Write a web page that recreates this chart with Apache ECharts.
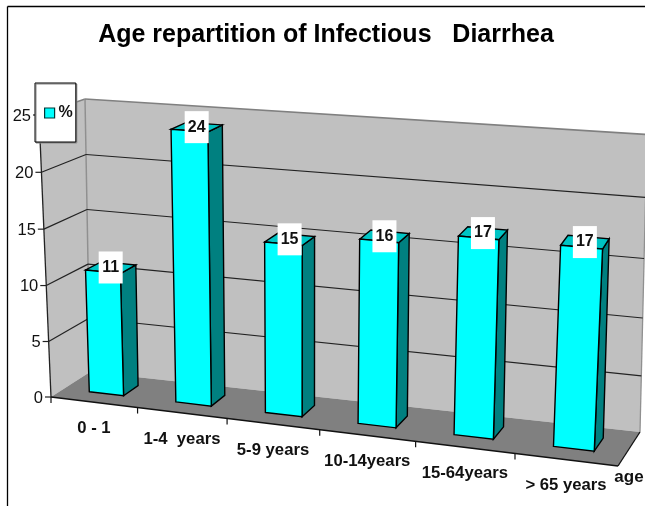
<!DOCTYPE html>
<html><head><meta charset="utf-8">
<style>html,body{margin:0;padding:0;background:#fff}#c{width:645px;height:506px}</style>
<script src="https://cdn.jsdelivr.net/npm/echarts@6/dist/echarts.min.js"></script>
</head><body><div id="c"></div>
<script>
const categories = ['0 - 1', '1-4  years', '5-9 years', '10-14years', '15-64years', '> 65 years'];
const percentValues = [11, 24, 15, 16, 17, 17];
const yTicks = [0, 5, 10, 15, 20, 25];
const chartTitle = 'Age repartition of Infectious   Diarrhea';
const seriesName = '%';
const xAxisName = 'age';

const FONT = '"Liberation Sans", Arial, sans-serif';
// Perspective box: front/back, bottom/top, left/right corners of the 3D plot
const C = {
  f00: [51, 397], f10: [618, 466], f01: [39, 115], f11: [635, 157],
  b00: [90, 372], b10: [640, 432], b01: [85, 99], b11: [647, 134.5]
};
const warpU = u => u / (u + 1.11 * (1 - u));
const lerp = (a, b, t) => [a[0] + (b[0] - a[0]) * t, a[1] + (b[1] - a[1]) * t];
function box(u, v, w) {
  const U = warpU(u);
  const V = v - (0.02 + 0.05 * U) * v * (1 - v);
  const f0 = lerp(C.f00, C.f10, U), f1 = lerp(C.f01, C.f11, U);
  const b0 = lerp(C.b00, C.b10, U), b1 = lerp(C.b01, C.b11, U);
  return lerp(lerp(f0, b0, w), lerp(f1, b1, w), V);
}
const norm = (params, pt) => {
  const r = params.coordSys;
  return [(pt[0] - r.x) / r.width, (r.y + r.height - pt[1]) / r.height];
};
const poly = (points, fill, stroke, lw) => ({
  type: 'polygon', shape: { points },
  style: { fill: fill, stroke: stroke || 'none', lineWidth: lw || 0 }
});
const line = (a, b, stroke, lw) => ({
  type: 'line', shape: { x1: a[0], y1: a[1], x2: b[0], y2: b[1] },
  style: { stroke: stroke, lineWidth: lw, fill: 'none' }
});
const text = (x, y, s, size, weight, align) => ({
  type: 'text', x, y,
  style: { text: s, font: `${weight} ${size}px ${FONT}`, fill: '#111', align: align, verticalAlign: 'middle' }
});

function renderWalls() {
  return { type: 'group', children: [
    poly([C.b00, C.b10, C.b11, C.b01], '#C0C0C0'),
    poly([C.f00, C.b00, C.b01, C.f01], '#C0C0C0'),
    poly([C.f00, C.f10, C.b10, C.b00], '#808080'),
    line(C.f01, C.b01, '#808080', 1.5),
    line(C.b01, C.b00, '#909090', 1.5),
    line(C.b01, C.b11, '#808080', 1.5),
    line(C.b10, C.b11, '#909090', 1.3),
    line(C.f00, C.f01, '#222', 1.3),
    line(C.f00, C.f10, '#111', 1.3),
    line(C.f10, C.b10, '#111', 1.3)
  ] };
}
function renderY(params, api) {
  const tv = api.value(1);
  const n = norm(params, api.coord([0, tv]));
  const v = n[1];
  const a = box(0, v, 0), b = box(0, v, 1), c = box(1, v, 1);
  const kids = [line([a[0] - 6, a[1]], a, '#222', 1.2),
    text(a[0] - 8, a[1] + 1, String(tv), 16.5, 'normal', 'right')];
  if (tv > 0 && tv < yTicks[yTicks.length - 1]) {
    kids.push(line(a, b, '#222', 1.2), line(b, c, '#222', 1.2));
  }
  return { type: 'group', children: kids };
}
function renderX(params, api) {
  const i = api.value(0);
  const cPt = api.coord([i, 0]);
  const band = api.size([1, 0])[0];
  const uL = norm(params, [cPt[0] - band / 2, cPt[1]])[0];
  const uR = norm(params, [cPt[0] + band / 2, cPt[1]])[0];
  const uM = norm(params, cPt)[0];
  const kids = [];
  const t0 = box(uL, 0, 0);
  kids.push(line(t0, [t0[0], t0[1] + 6], '#111', 1.2));
  if (i === categories.length - 1) {
    const t1 = box(uR, 0, 0);
    kids.push(text(t1[0] + 11, t1[1] + 11, xAxisName, 17, 'bold', 'center'));
  }
  const m = box(uM, 0, 0);
  kids.push(text(m[0], m[1] + 26, categories[i], 16.7, 'bold', 'center'));
  return { type: 'group', children: kids };
}
function renderBar(params, api) {
  const val = api.value(1);
  const top = api.coord([api.value(0), val]);
  const band = api.size([1, 0])[0];
  const half = band * 0.2;
  const nL = norm(params, [top[0] - half, top[1]]);
  const nR = norm(params, [top[0] + half, top[1]]);
  const uL = nL[0], uR = nR[0], v = nL[1];
  const w0 = 0.33, w1 = 0.72;
  const flb = box(uL, 0, w0), frb = box(uR, 0, w0), brb = box(uR, 0, w1);
  const flt = box(uL, v, w0), frt = box(uR, v, w0), brt = box(uR, v, w1), blt = box(uL, v, w1);
  const cx = (flt[0] + brt[0]) / 2, cy = (flt[1] + brt[1]) / 2;
  const stroke = '#000', lw = 1.4;
  return { type: 'group', children: [
    poly([frb, brb, brt, frt], '#008080', stroke, lw),
    poly([flt, frt, brt, blt], '#00C4C4', stroke, lw),
    poly([flb, frb, frt, flt], api.visual('color'), stroke, lw),
    { type: 'rect', shape: { x: cx - 12, y: cy - 16, width: 24, height: 32 }, style: { fill: '#fff' } },
    text(cx, cy, String(val), 16, 'bold', 'center')
  ] };
}

const chart = echarts.init(document.getElementById('c'), null, { renderer: 'canvas' });
chart.setOption({
  animation: false,
  backgroundColor: '#fff',
  title: {
    text: chartTitle, left: 321, top: 18, textAlign: 'center',
    textStyle: { fontFamily: FONT, fontSize: 25, fontWeight: 'bold', color: '#000' }
  },
  legend: {
    data: [seriesName], left: 35, top: 83, orient: 'vertical',
    padding: [22, 3, 21, 9], itemWidth: 10, itemHeight: 10, itemGap: 0, icon: 'rect',
    backgroundColor: '#fff', borderColor: '#000', borderWidth: 1,
    shadowColor: '#888', shadowBlur: 0, shadowOffsetX: 1, shadowOffsetY: 1,
    textStyle: { fontFamily: FONT, fontSize: 16, fontWeight: 'bold', color: '#111', padding: [0, 0, 0, -1] },
    itemStyle: { borderColor: '#003838', borderWidth: 1.2 },
    selectedMode: false
  },
  grid: { left: 51, right: 27, top: 100, bottom: 106 },
  xAxis: { type: 'category', data: categories, show: false, boundaryGap: true },
  yAxis: { type: 'value', min: 0, max: 25, interval: 5, show: false },
  graphic: { elements: [
    { type: 'line', z: 50, shape: { x1: 7.5, y1: 6.5, x2: 645, y2: 6.5 }, style: { stroke: '#000', lineWidth: 1.3 } },
    { type: 'line', z: 50, shape: { x1: 7.5, y1: 6.5, x2: 7.5, y2: 506 }, style: { stroke: '#000', lineWidth: 1.3 } }
  ] },
  series: [
    { type: 'custom', name: 'walls', z: 1, data: [[0, 0]], renderItem: renderWalls, silent: true },
    { type: 'custom', name: 'yAxisMarks', z: 2, data: yTicks.map(t => [0, t]), renderItem: renderY, silent: true },
    { type: 'custom', name: 'xAxisMarks', z: 2, data: categories.map((c, i) => [i, 0]), renderItem: renderX, silent: true },
    { type: 'custom', name: seriesName, z: 3, itemStyle: { color: '#00FFFF' },
      data: percentValues.map((p, i) => [i, p]), renderItem: renderBar }
  ]
});
</script></body></html>
